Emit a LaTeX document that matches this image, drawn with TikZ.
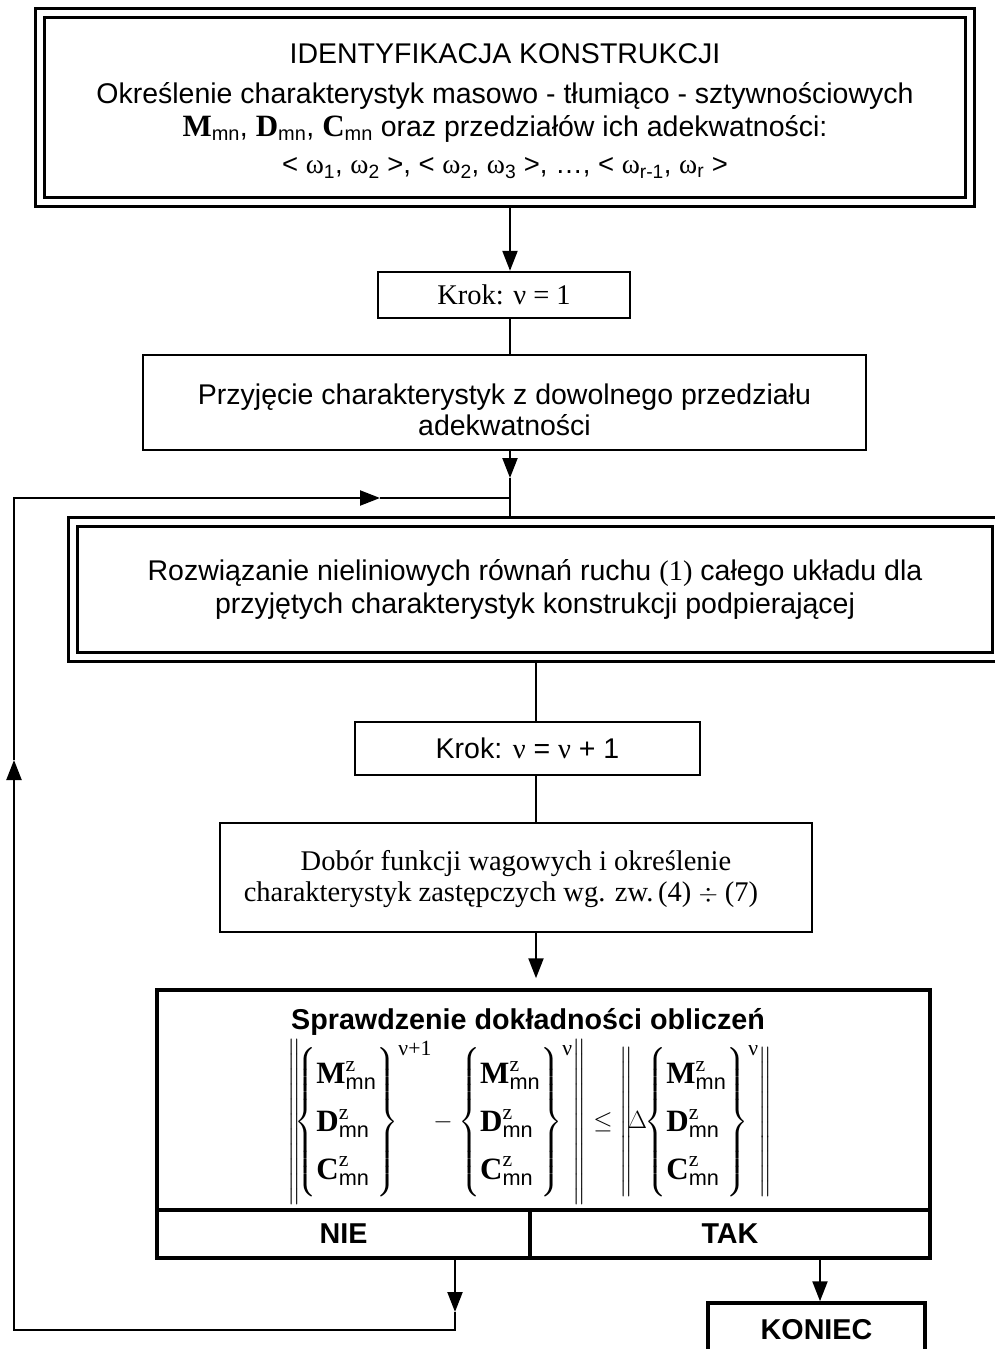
\documentclass[tikz,border=0pt]{standalone}
\usepackage{fontspec}
\usepackage{amsmath}
\setmainfont{Liberation Serif}
\newfontfamily\arial{Liberation Sans}
\usetikzlibrary{arrows.meta}
\pgfdeclarelayer{bg}
\pgfsetlayers{bg,main}
\newcommand{\myB}[1]{\text{\rmfamily\bfseries #1}}
\newcommand{\mysub}{\text{\arial mn}}
\newcommand{\mysup}{\text{\rmfamily z}}
\newcommand{\nuu}{{\rmfamily\symbol{"03BD}}}
\newcommand{\mymtx}{\left\{\begin{array}{@{}l@{}}\myB{M}^{\mysup}_{\mysub}\\ \myB{D}^{\mysup}_{\mysub}\\ \myB{C}^{\mysup}_{\mysub}\end{array}\right\}}
\newcommand{\om}{{\rmfamily\symbol{"03C9}}}
\newcommand{\dn}[2]{\raisebox{-#1}[\height][\depth]{#2}}
\begin{document}
\begin{tikzpicture}[x=1pt,y=-1pt,
  box/.style={draw, line width=2.4pt, fill=white, inner sep=0pt, align=center},
  dbox/.style={draw, line width=3pt, double, double distance=6pt, fill=white, inner sep=0pt, align=center},
  tbox/.style={draw, line width=3.5pt, fill=white, inner sep=0pt, align=center},
  sans/.style={font=\arial\fontsize{28.5}{31}\selectfont},
  serif/.style={font=\fontsize{28.5}{31}\selectfont},
  bsans/.style={font=\arial\bfseries\fontsize{28.7}{31}\selectfont},
  conn/.style={line width=2.2pt},
  tip/.style={-{Triangle[length=20pt,width=15pt]}}
]
\useasboundingbox (0,0) rectangle (994,1349);
% boxes
\node[dbox, minimum width=930, minimum height=189, font=\arial\fontsize{28.5}{33}\selectfont] (top) at (505,107.5)
  {\dn{4pt}{IDENTYFIKACJA KONSTRUKCJI}\\[7pt]
   \dn{4pt}{Określenie charakterystyk masowo - tłumiąco - sztywnościowych}\\
   \dn{4pt}{{\rmfamily\bfseries\fontsize{31}{31}\selectfont M}\textsubscript{mn}, {\rmfamily\bfseries\fontsize{31}{31}\selectfont D}\textsubscript{mn}, {\rmfamily\bfseries\fontsize{31}{31}\selectfont C}\textsubscript{mn} oraz przedziałów ich adekwatności:}\\[4pt]
   \dn{4pt}{\fontsize{27.5}{28}\selectfont < \om\textsubscript{1}, \om\textsubscript{2} >, < \om\textsubscript{2}, \om\textsubscript{3} >, \ldots, < \om\textsubscript{r-1}, \om\textsubscript{r} >}};
\node[box, minimum width=252, minimum height=46, serif] (k1) at (504,295) {Krok: \nuu{} = 1};
\node[box, minimum width=723, minimum height=95, sans] (prz) at (504.5,402.5)
  {\dn{7pt}{Przyjęcie charakterystyk z dowolnego przedziału}\\\dn{7pt}{adekwatności}};
\node[dbox, minimum width=924, minimum height=135, font=\arial\fontsize{28.5}{33}\selectfont] (roz) at (535,589.5)
  {Rozwiązanie nieliniowych równań ruchu {\rmfamily(1)} całego układu dla\\przyjętych charakterystyk konstrukcji podpierającej};
\node[box, minimum width=345, minimum height=53, sans] (k2) at (527.5,748.5) {Krok: {\rmfamily\nuu} = {\rmfamily\nuu} + 1};
\node[box, minimum width=592, minimum height=109, serif] (dob) at (516,877.5)
  {\dn{2pt}{Dobór funkcji wagowych i określenie}\\\dn{2pt}{charakterystyk zastępczych wg. zw.\,(4) $\div$ (7)}\kern30pt};
\node[tbox, minimum width=773, minimum height=220] (chk) at (543.5,1100) {};
\node[tbox, minimum width=373, minimum height=48, bsans] (nie) at (343.5,1234) {NIE};
\node[tbox, minimum width=400, minimum height=48, bsans] (tak) at (730,1234) {TAK};
\node[tbox, minimum width=217, minimum height=54, bsans] (kon) at (816.5,1330) {KONIEC};
\node[bsans] (tit) at (528,1022) {Sprawdzenie dokładności obliczeń};
\node[font=\fontsize{31}{38}\selectfont, inner sep=0pt] (frm) at (530,1122)
  {\renewcommand{\arraystretch}{1.26}$\left\|\mkern-5mu\mymtx^{\text{\nuu+1}}\!-\mymtx^{\text{\nuu}}\right\|\le\left\|\mkern-4mu\Delta\mkern-5mu\mymtx^{\text{\nuu}}\right\|$};
% coordinates
\coordinate (xa) at (510,0);
\coordinate (xb) at (536,0);
\coordinate (a3) at (510,478);
\coordinate (j) at (510,498);
\coordinate (ar) at (380,498);
\coordinate (tl) at (14,498);
\coordinate (au) at (14,760);
\coordinate (bl) at (14,1330);
\coordinate (br) at (455,1330);
\coordinate (ad) at (455,1312);
\coordinate (xt) at (820,0);
\begin{pgfonlayer}{bg}
\draw[conn,tip] (top.south -| xa) -- (k1.north -| xa);
\draw[conn] (k1.south -| xa) -- (prz.north -| xa);
\draw[conn,tip] (prz.south -| xa) -- (a3);
\draw[conn] (a3) -- (roz.north -| xa);
\draw[conn] (roz.south -| xb) -- (k2.north -| xb);
\draw[conn] (k2.south -| xb) -- (dob.north -| xb);
\draw[conn,tip,shorten >=10pt] (dob.south -| xb) -- (chk.north -| xb);
\draw[conn,tip] (tak.south -| xt) -- (kon.north -| xt);
\draw[conn,tip] (nie.south -| br) -- (ad);
\draw[conn,tip] (ad) -- (br) -- (bl) -- (au);
\draw[conn,tip] (au) -- (tl) -- (ar);
\draw[conn] (ar) -- (j);
\end{pgfonlayer}
\end{tikzpicture}
\end{document}
